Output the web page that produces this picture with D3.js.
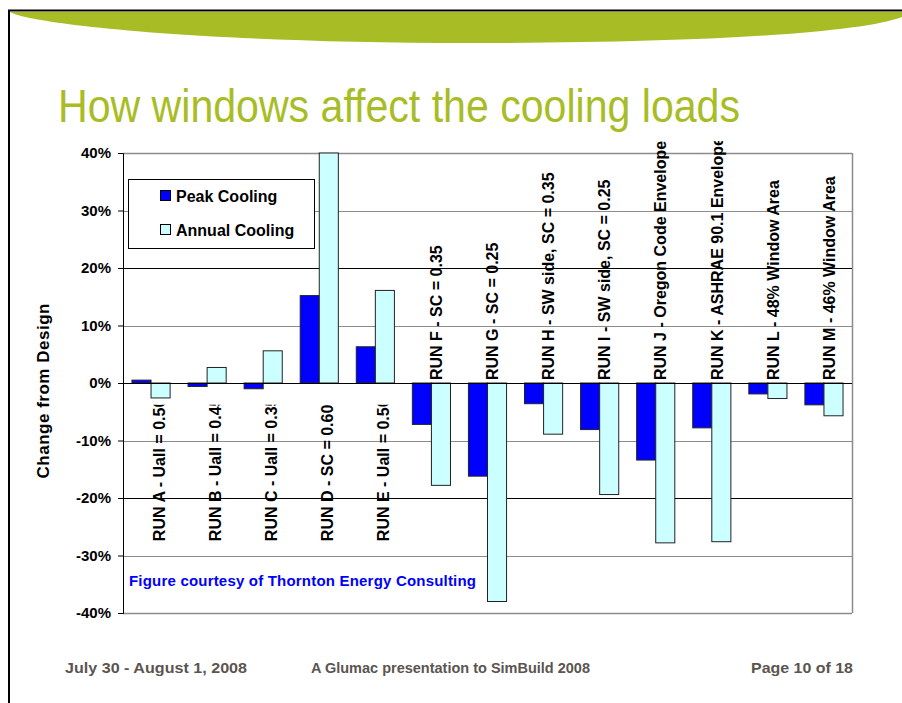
<!DOCTYPE html>
<html>
<head>
<meta charset="utf-8">
<script src="https://cdn.jsdelivr.net/npm/d3@7"></script>
<style>
  body { margin: 0; background: #fff; }
  text { font-family: "Liberation Sans", Arial, sans-serif; }
</style>
</head>
<body>
<div id="chart"></div>
<script>
// chart data (percent change from design)
var categories = [
    "RUN A - Uall = 0.50", "RUN B - Uall = 0.45", "RUN C - Uall = 0.35",
    "RUN D - SC = 0.60", "RUN E - Uall = 0.50",
    "RUN F - SC = 0.35", "RUN G - SC = 0.25",
    "RUN H - SW side, SC = 0.35", "RUN I - SW side, SC = 0.25",
    "RUN J - Oregon Code Envelope", "RUN K - ASHRAE 90.1 Envelope",
    "RUN L - 48% Window Area", "RUN M - 46% Window Area"
];
var peakCooling = [0.5, -0.6, -1.0, 15.2, 6.3, -7.2, -16.2, -3.6, -8.1, -13.4, -7.8, -1.9, -3.8];
var annualCooling = [-2.6, 2.7, 5.6, 40.0, 16.1, -17.8, -38.0, -8.9, -19.4, -27.8, -27.6, -2.7, -5.7];
var seriesNames = ["Peak Cooling", "Annual Cooling"];
var yTicks = [40, 30, 20, 10, 0, -10, -20, -30, -40];

var W = 902, H = 703;
var green = "#a8bd25";
var colors = { "Peak Cooling": "#0000ff", "Annual Cooling": "#ccffff" };

var svg = d3.select("#chart").append("svg")
    .attr("width", W)
    .attr("height", H);

// slide frame + green swoosh
svg.append("path")
    .attr("d", "M10,12 C30,24 200,43 470,43 C700,43 860,33 902,17 V12 Z")
    .attr("fill", green);
svg.append("path")
    .attr("d", "M9,703 V10.5 H902")
    .attr("fill", "none")
    .attr("stroke", "#000")
    .attr("stroke-width", 2);

// title
svg.append("text")
    .attr("x", 58)
    .attr("y", 122)
    .attr("textLength", 682)
    .attr("lengthAdjust", "spacingAndGlyphs")
    .style("font-size", "47px")
    .style("fill", green)
    .text("How windows affect the cooling loads");

// plot area
var margin = { top: 153, left: 123 },
    width = 729, height = 460;

var g = svg.append("g")
    .attr("transform", "translate(" + margin.left + "," + margin.top + ")");

var x = d3.scaleBand()
    .domain(categories)
    .range([0, width])
    .paddingInner(0.32)
    .paddingOuter(0.16);

var xs = d3.scaleBand()
    .domain(seriesNames)
    .range([0, x.bandwidth()]);

var y = d3.scaleLinear()
    .domain([-40, 40])
    .range([height, 0]);

// gridlines
g.selectAll(".grid")
    .data(yTicks.filter(function (d) { return d !== 0; }))
    .enter().append("line")
    .attr("x1", 0).attr("x2", width)
    .attr("y1", function (d) { return Math.round(y(d)) + 0.5; })
    .attr("y2", function (d) { return Math.round(y(d)) + 0.5; })
    .attr("stroke", function (d) { return Math.abs(d) === 20 ? "#000" : "#8c8c8c"; })
    .attr("stroke-width", function (d) { return Math.abs(d) === 40 ? 1.5 : 1; });

g.append("line")
    .attr("x1", width + 0.5).attr("x2", width + 0.5)
    .attr("y1", 0).attr("y2", height)
    .attr("stroke", "#8c8c8c")
    .attr("stroke-width", 1.5);

// bars
var rows = categories.map(function (c, i) {
    return { cat: c, i: i, values: [
        { name: "Peak Cooling", v: peakCooling[i] },
        { name: "Annual Cooling", v: annualCooling[i] }
    ] };
});

var groups = g.selectAll(".cat")
    .data(rows)
    .enter().append("g")
    .attr("transform", function (d) { return "translate(" + x(d.cat) + ",0)"; });

groups.selectAll("rect")
    .data(function (d) { return d.values; })
    .enter().append("rect")
    .attr("x", function (d) { return xs(d.name); })
    .attr("width", xs.bandwidth())
    .attr("y", function (d) { return y(Math.max(0, d.v)); })
    .attr("height", function (d) { return Math.abs(y(d.v) - y(0)); })
    .attr("fill", function (d) { return colors[d.name]; })
    .attr("stroke", "#222")
    .attr("stroke-width", 1);

// zero line + y axis
g.append("line")
    .attr("x1", 0).attr("x2", width)
    .attr("y1", Math.round(y(0)) + 0.5).attr("y2", Math.round(y(0)) + 0.5)
    .attr("stroke", "#000");

var yAxis = g.append("g")
    .call(d3.axisLeft(y)
        .tickValues(yTicks)
        .tickSize(5)
        .tickPadding(7)
        .tickFormat(function (d) { return d + "%"; }));
yAxis.select(".domain").attr("stroke", "#000");
yAxis.selectAll("text")
    .style("font-size", "15px")
    .style("font-weight", "bold")
    .style("fill", "#000");

// category labels (clipped like the original)
var defs = svg.append("defs");
defs.append("clipPath").attr("id", "clipBelow")
    .append("rect").attr("x", 0).attr("y", y(-3.8)).attr("width", width).attr("height", height);
defs.append("clipPath").attr("id", "clipAbove")
    .append("rect").attr("x", 0).attr("y", -12).attr("width", width).attr("height", y(0) + 12);

var isAbove = function (i) { return peakCooling[i] < 0 && annualCooling[i] < 0; };

g.append("g").attr("clip-path", "url(#clipBelow)")
    .selectAll("text")
    .data(rows.filter(function (d) { return !isAbove(d.i); }))
    .enter().append("text")
    .attr("transform", function (d) {
        return "translate(" + (x(d.cat) + x.bandwidth() / 2 + 8) + "," + y(-27.5) + ") rotate(-90)";
    })
    .attr("dy", "0.36em")
    .attr("text-anchor", "start")
    .style("font-size", "16px")
    .style("font-weight", "bold")
    .text(function (d) { return d.cat; });

g.append("g").attr("clip-path", "url(#clipAbove)")
    .selectAll("text")
    .data(rows.filter(function (d) { return isAbove(d.i); }))
    .enter().append("text")
    .attr("transform", function (d) {
        return "translate(" + (x(d.cat) + x.bandwidth() / 2 + 5) + "," + (y(0) - 3) + ") rotate(-90)";
    })
    .attr("dy", "0.36em")
    .attr("text-anchor", "start")
    .style("font-size", "16px")
    .style("font-weight", "bold")
    .text(function (d) { return d.cat; });

// y axis title
svg.append("text")
    .attr("transform", "translate(49," + (margin.top + y(0) + 8) + ") rotate(-90)")
    .attr("text-anchor", "middle")
    .attr("textLength", 175)
    .style("font-size", "17px")
    .style("font-weight", "bold")
    .text("Change from Design");

// legend
var legend = svg.append("g").attr("transform", "translate(128,179)");
legend.append("rect")
    .attr("x", 0.5).attr("y", 0.5)
    .attr("width", 186).attr("height", 69)
    .attr("fill", "#fff")
    .attr("stroke", "#000");
var li = legend.selectAll(".item")
    .data(seriesNames)
    .enter().append("g")
    .attr("transform", function (d, i) { return "translate(32," + (11 + i * 34) + ")"; });
li.append("rect")
    .attr("x", 0.5).attr("y", 0.5)
    .attr("width", 10).attr("height", 10)
    .attr("fill", function (d) { return colors[d]; })
    .attr("stroke", "#000");
li.append("text")
    .attr("x", 16)
    .attr("y", 11.5)
    .style("font-size", "16px")
    .style("font-weight", "bold")
    .text(function (d) { return d; });

// source note
svg.append("text")
    .attr("x", 129)
    .attr("y", 586)
    .attr("textLength", 347)
    .style("font-size", "15px")
    .style("font-weight", "bold")
    .style("fill", "#0000ff")
    .text("Figure courtesy of Thornton Energy Consulting");

// footer
var footer = [
    { t: "July 30 - August 1, 2008", x: 65, w: 182 },
    { t: "A Glumac presentation to SimBuild 2008", x: 311, w: 279 },
    { t: "Page 10 of 18", x: 751, w: 102 }
];
svg.selectAll(".footer")
    .data(footer)
    .enter().append("text")
    .attr("x", function (d) { return d.x; })
    .attr("y", 673)
    .attr("textLength", function (d) { return d.w; })
    .attr("lengthAdjust", "spacingAndGlyphs")
    .style("font-size", "15px")
    .style("font-weight", "bold")
    .style("fill", "#5a5550")
    .text(function (d) { return d.t; });
</script>
</body>
</html>
